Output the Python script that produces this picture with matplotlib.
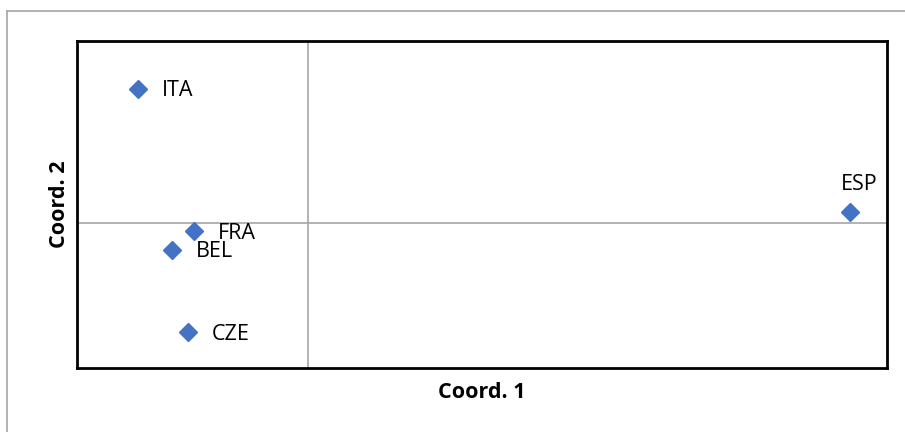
import matplotlib.pyplot as plt
from matplotlib.lines import Line2D

# coordonnees des pays
pays = ['ITA', 'FRA', 'BEL', 'CZE', 'ESP']
coord1 = [-1.47, -0.99, -1.18, -1.04, 4.68]
coord2 = [1.84, -0.12, -0.37, -1.51, 0.14]

fig = plt.figure(figsize=(9.05, 4.32), dpi=100)
plt.rcParams['font.family'] = ['Open Sans', 'DejaVu Sans']

# cadre gris exterieur
fig.add_artist(Line2D([7/905, 7/905], [0, 1 - 11/432], color='#a6a6a6', lw=1.2))
fig.add_artist(Line2D([7/905, 1], [1 - 11/432, 1 - 11/432], color='#a6a6a6', lw=1.2))

ax = fig.add_axes([77/905, 1 - 368/432, 810/905, 327/432])
ax.set_xlim(-2, 5)
ax.set_ylim(-2, 2.5)
ax.axhline(0, color='#a6a6a6', lw=1.2, zorder=1)
ax.axvline(0, color='#a6a6a6', lw=1.2, zorder=1)

ax.plot(coord1, coord2, 'D', color='#4472C4', markersize=9, zorder=3)

for p, x, y in zip(pays, coord1, coord2):
    if p == 'ESP':
        ax.annotate(p, (x, y), xytext=(9, 28), textcoords='offset pixels',
                    ha='center', va='center', fontsize=15.5)
    else:
        ax.annotate(p, (x, y), xytext=(24, -2), textcoords='offset pixels',
                    ha='left', va='center', fontsize=15.5)

for s in ax.spines.values():
    s.set_linewidth(2)
    s.set_color('black')
ax.set_xticks([])
ax.set_yticks([])
ax.set_xlabel('Coord. 1', fontsize=15.5, fontweight='bold', labelpad=10)
ax.set_ylabel('Coord. 2', fontsize=15.5, fontweight='bold', labelpad=5)

fig.savefig('out.png', dpi=100)
